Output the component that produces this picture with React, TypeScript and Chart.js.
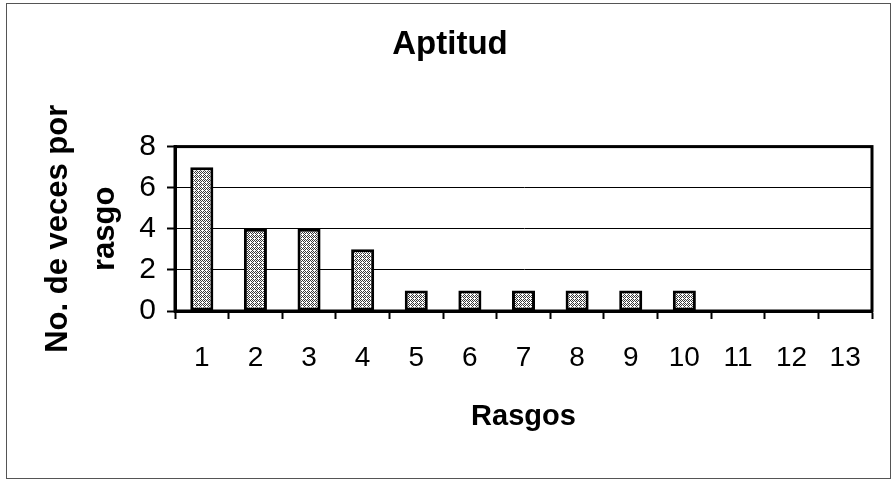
import React, { useEffect, useRef } from "react";
import { Chart, registerables } from "chart.js";

Chart.register(...registerables);

const categories = ["1", "2", "3", "4", "5", "6", "7", "8", "9", "10", "11", "12", "13"];
const values = [7, 4, 4, 3, 1, 1, 1, 1, 1, 1, 0, 0, 0];
const yTicks = [0, 2, 4, 6, 8];
const chartTitle = "Aptitud";
const yTitle = ["No. de veces por", "rasgo"];
const xTitle = "Rasgos";

const FONT = "'Liberation Sans', Arial, sans-serif";

function makePattern(): CanvasPattern | string {
  const pc = document.createElement("canvas");
  pc.width = 4;
  pc.height = 4;
  const c = pc.getContext("2d");
  if (!c) return "#aaaaaa";
  c.fillStyle = "#ffffff";
  c.fillRect(0, 0, 4, 4);
  c.fillStyle = "#3a3a3a";
  for (let y = 0; y < 4; y++) {
    for (let x = 0; x < 4; x++) {
      if ((x + y) % 2 === 0 && !(x === 2 && y === 2)) c.fillRect(x, y, 1, 1);
    }
  }
  const p = c.createPattern(pc, "repeat");
  return p || "#aaaaaa";
}

const framePlugin = {
  id: "framePlugin",
  afterDraw(chart: any) {
    const { ctx, chartArea } = chart;
    ctx.save();
    ctx.strokeStyle = "#000";
    ctx.lineWidth = 3;
    ctx.strokeRect(chartArea.left, chartArea.top, chartArea.right - chartArea.left, chartArea.bottom - chartArea.top);
    ctx.lineWidth = 1;
    ctx.strokeStyle = "#555";
    ctx.strokeRect(6.5, 3.5, 884, 475);
    ctx.restore();
  },
};

export default function App() {
  const ref = useRef<HTMLCanvasElement | null>(null);
  useEffect(() => {
    document.body.style.margin = "0";
    const canvas = ref.current;
    if (!canvas) return;
    const chart = new Chart(canvas, {
      type: "bar",
      data: {
        labels: categories,
        datasets: [
          {
            data: values,
            backgroundColor: makePattern() as any,
            borderColor: "#000",
            borderWidth: 3,
            borderSkipped: false,
            categoryPercentage: 1,
            barPercentage: 0.43,
          },
        ],
      },
      options: {
        responsive: false,
        animation: false,
        layout: { padding: { left: 28, right: 21, top: 0, bottom: 8 } },
        plugins: {
          legend: { display: false },
          tooltip: { enabled: false },
          title: {
            display: true,
            text: chartTitle,
            color: "#000",
            font: { family: FONT, size: 33, weight: "bold", lineHeight: 1.2 },
            padding: { top: 25, bottom: 82 },
          },
        },
        scales: {
          x: {
            type: "category",
            offset: true,
            grid: {
              offset: true,
              drawOnChartArea: false,
              drawTicks: true,
              tickLength: 8,
              tickColor: "#000",
              tickWidth: 2,
            },
            border: { display: true, color: "#000", width: 3 },
            ticks: {
              color: "#000",
              padding: 22,
              maxRotation: 0,
              autoSkip: false,
              font: { family: FONT, size: 28 },
            },
            title: {
              display: true,
              text: xTitle,
              color: "#000",
              font: { family: FONT, size: 29, weight: "bold", lineHeight: 1.2 },
              padding: { top: 0, bottom: 38 },
            },
            afterFit: (s: any) => {
              s.height = 161;
            },
          },
          y: {
            min: 0,
            max: 8,
            afterBuildTicks: (s: any) => {
              s.ticks = yTicks.map((v) => ({ value: v }));
            },
            grid: {
              color: "#000",
              lineWidth: 1,
              drawTicks: true,
              tickLength: 8,
              tickColor: "#000",
              tickWidth: 2,
            },
            border: { display: true, color: "#000", width: 3 },
            ticks: {
              color: "#000",
              padding: 11,
              font: { family: FONT, size: 30 },
            },
            title: {
              display: true,
              text: yTitle,
              color: "#000",
              font: { family: FONT, size: 31, weight: "bold", lineHeight: 1.52 },
              padding: { top: 7, bottom: 0 },
            },
            afterFit: (s: any) => {
              s.width = 147;
            },
          },
        },
      },
      plugins: [framePlugin],
    });
    return () => chart.destroy();
  }, []);
  return (
    <div style={{ width: 893, height: 480, background: "#fff" }}>
      <canvas ref={ref} width={893} height={480} style={{ display: "block" }} />
    </div>
  );
}
